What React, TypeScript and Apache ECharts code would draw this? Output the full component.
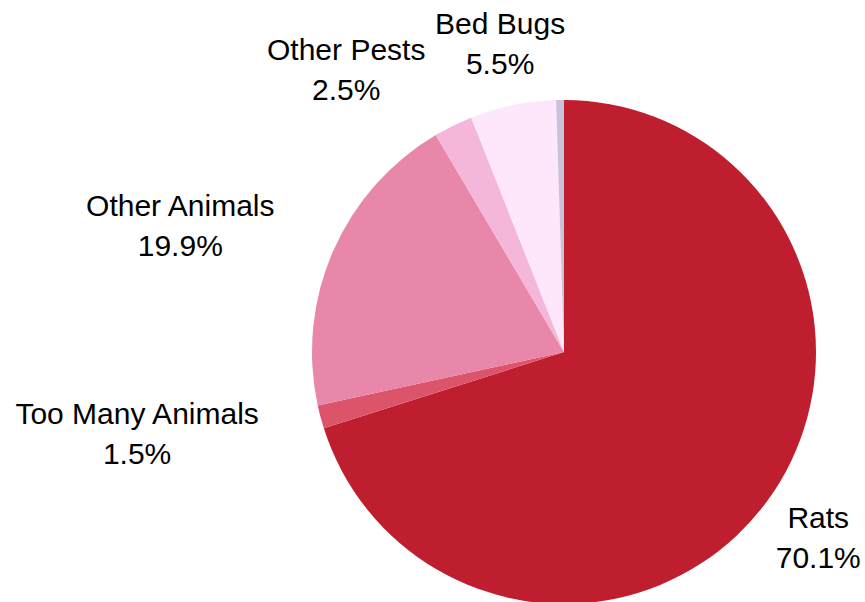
import React, { useEffect, useRef } from "react";
import * as echarts from "echarts";

const categories = ["Rats", "Too Many Animals", "Other Animals", "Other Pests", "Bed Bugs", "Other"];
const values = [70.1, 1.5, 19.9, 2.5, 5.5, 0.5];
const colors = ["#BE1E2D", "#DC5469", "#E987AB", "#F4B7DA", "#FEE6FB", "#C8C2DA"];
const labelled = [true, true, true, true, true, false];
const centeredLabels = ["Rats", "Bed Bugs"];

export default function App() {
  const ref = useRef<HTMLDivElement>(null);
  useEffect(() => {
    if (!ref.current) return;
    const chart = echarts.init(ref.current, null, { renderer: "svg" });
    chart.setOption({
      animation: false,
      backgroundColor: "#ffffff",
      series: [
        {
          type: "pie",
          center: [564, 352],
          radius: 252,
          startAngle: 90,
          clockwise: true,
          avoidLabelOverlap: false,
          itemStyle: { borderWidth: 0 },
          emphasis: { disabled: true },
          label: {
            show: true,
            position: "outside",
            distanceToLabelLine: 0,
            fontFamily: "Liberation Sans, Arial, sans-serif",
            fontSize: 30,
            lineHeight: 40,
            color: "#000000",
            formatter: (p: any) => `${p.name}\n${p.percent.toFixed(1)}%`,
          },
          labelLine: { show: false, length: 63, length2: 0 },
          labelLayout: (p: any) => {
            const name = categories[p.dataIndex];
            if (centeredLabels.includes(name)) return { align: "center" };
            const r = p.labelRect;
            return { x: r.x + r.width / 2, align: "center" };
          },
          data: categories.map((name, i) => ({
            name,
            value: values[i],
            itemStyle: { color: colors[i] },
            label: { show: labelled[i] },
          })),
        },
      ],
    });
    return () => chart.dispose();
  }, []);
  return (
    <div
      ref={ref}
      style={{ position: "absolute", left: 0, top: 0, width: 865, height: 602 }}
    />
  );
}
